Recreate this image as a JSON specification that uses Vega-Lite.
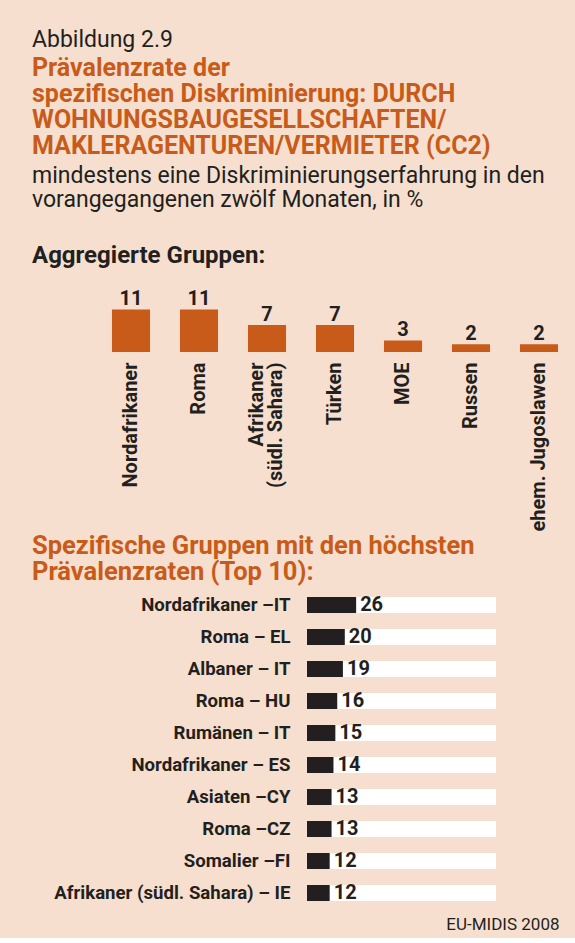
{
  "$schema": "https://vega.github.io/schema/vega-lite/v6.json",
  "background": "#f6dfce",
  "padding": {"left": 32, "top": 29, "right": 2, "bottom": 6},
  "spacing": 2,
  "config": {"font": "Roboto", "view": {"stroke": null}},
  "title": {
    "text": "Abbildung 2.9",
    "subtitle": ["Prävalenzrate der", "spezifischen Diskriminierung: DURCH", "WOHNUNGSBAUGESELLSCHAFTEN/", "MAKLERAGENTUREN/VERMIETER (CC2)"],
    "anchor": "start",
    "frame": "bounds",
    "fontSize": 23,
    "fontWeight": "normal",
    "color": "#231f20",
    "subtitleFontSize": 25,
    "subtitleFontWeight": "bold",
    "subtitleColor": "#c95b1a",
    "subtitleLineHeight": 26,
    "subtitlePadding": 4,
    "offset": 6
  },
  "vconcat": [
    {
      "title": {
        "text": ["mindestens eine Diskriminierungserfahrung in den", "vorangegangenen zwölf Monaten, in %"],
        "subtitle": "Aggregierte Gruppen:",
        "anchor": "start",
        "frame": "group",
        "dx": -65,
        "fontSize": 23,
        "fontWeight": "normal",
        "color": "#231f20",
        "lineHeight": 24,
        "subtitleFontSize": 24,
        "subtitleFontWeight": "bold",
        "subtitleColor": "#231f20",
        "subtitlePadding": 32,
        "offset": 21
      },
      "width": 476,
      "height": 62,
      "data": {"values": [
        {"gruppe": "Nordafrikaner", "wert": 11},
        {"gruppe": "Roma", "wert": 11},
        {"gruppe": "Afrikaner (südl. Sahara)", "wert": 7},
        {"gruppe": "Türken", "wert": 7},
        {"gruppe": "MOE", "wert": 3},
        {"gruppe": "Russen", "wert": 2},
        {"gruppe": "ehem. Jugoslawen", "wert": 2}
      ]},
      "encoding": {
        "x": {
          "field": "gruppe", "type": "nominal", "sort": null,
          "scale": {"paddingInner": 0.44, "paddingOuter": 0.22},
          "axis": {
            "title": null, "ticks": false, "domain": false, "grid": false,
            "labelAngle": -90, "labelAlign": "right", "labelBaseline": "middle",
            "labelPadding": 10, "labelFontSize": 20, "labelFontWeight": "bold",
            "labelColor": "#231f20", "labelLimit": 300, "labelLineHeight": 19,
            "labelOffset": {"condition": {"test": "datum.label == 'Afrikaner (südl. Sahara)'", "value": -10}, "value": 0},
            "labelExpr": "datum.label == 'Afrikaner (südl. Sahara)' ? ['Afrikaner', '(südl. Sahara)'] : datum.label"
          }
        },
        "y": {
          "field": "wert", "type": "quantitative",
          "scale": {"domain": [0, 16], "nice": false},
          "axis": null
        }
      },
      "layer": [
        {"mark": {"type": "bar", "color": "#c95b1a"}},
        {
          "mark": {"type": "text", "baseline": "alphabetic", "dy": -4, "fontWeight": "bold", "fontSize": 20, "color": "#231f20"},
          "encoding": {"text": {"field": "wert", "type": "quantitative"}}
        }
      ]
    },
    {
      "title": {
        "text": ["Spezifische Gruppen mit den höchsten", "Prävalenzraten (Top 10):"],
        "anchor": "start",
        "frame": "group",
        "dx": -65,
        "fontSize": 25.5,
        "fontWeight": "bold",
        "color": "#c95b1a",
        "lineHeight": 26,
        "offset": 4
      },
      "width": 399,
      "height": 320,
      "data": {"values": [
        {"gruppe": "Nordafrikaner –IT", "wert": 26},
        {"gruppe": "Roma – EL", "wert": 20},
        {"gruppe": "Albaner – IT", "wert": 19},
        {"gruppe": "Roma – HU", "wert": 16},
        {"gruppe": "Rumänen – IT", "wert": 15},
        {"gruppe": "Nordafrikaner – ES", "wert": 14},
        {"gruppe": "Asiaten –CY", "wert": 13},
        {"gruppe": "Roma –CZ", "wert": 13},
        {"gruppe": "Somalier –FI", "wert": 12},
        {"gruppe": "Afrikaner (südl. Sahara) – IE", "wert": 12}
      ]},
      "encoding": {
        "y": {
          "field": "gruppe", "type": "nominal", "sort": null,
          "scale": {"paddingInner": 0.5, "paddingOuter": 0.25},
          "axis": {
            "title": null, "ticks": false, "domain": false, "grid": false,
            "offset": -210,
            "labelPadding": 17, "labelFontSize": 18.6, "labelFontWeight": "bold",
            "labelColor": "#231f20", "labelLimit": 400
          }
        }
      },
      "layer": [
        {
          "mark": {"type": "bar", "color": "#ffffff"},
          "encoding": {
            "x": {
              "datum": 100, "type": "quantitative",
              "scale": {"domain": [0, 100], "nice": false, "range": [210, 399]},
              "axis": {
                "title": "EU-MIDIS 2008", "labels": false, "ticks": false, "domain": false, "grid": false,
                "titleFontWeight": "normal", "titleFontSize": 17, "titleColor": "#231f20",
                "titleX": 462, "titleY": 20, "titleAlign": "right", "titleBaseline": "alphabetic"
              }
            }
          }
        },
        {
          "mark": {"type": "bar", "color": "#231f20"},
          "encoding": {"x": {"field": "wert", "type": "quantitative"}}
        },
        {
          "mark": {"type": "text", "align": "left", "baseline": "middle", "dx": 4, "fontWeight": "bold", "fontSize": 20, "color": "#231f20"},
          "encoding": {"x": {"field": "wert", "type": "quantitative"}, "text": {"field": "wert", "type": "quantitative"}}
        }
      ]
    }
  ]
}
